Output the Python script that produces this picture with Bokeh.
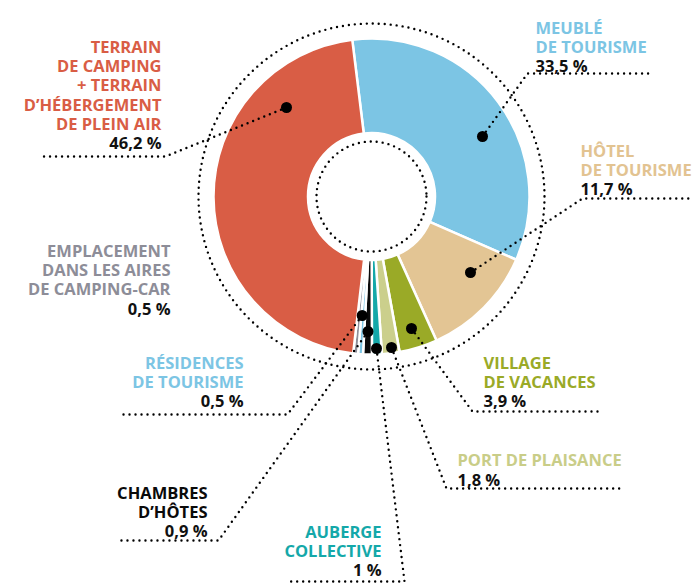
from bokeh.plotting import figure
from bokeh.models import Range1d, ColumnDataSource
from bokeh.embed import file_html
from bokeh.resources import INLINE
from bokeh.core.properties import value
import math

# ---------------- data ----------------
categories = ["Meublé de tourisme", "Hôtel de tourisme", "Village de vacances",
              "Port de plaisance", "Auberge collective", "Chambres d'hôtes",
              "Résidences de tourisme", "Emplacement dans les aires de camping-car",
              "Terrain de camping + terrain d'hébergement de plein air"]
shares = [33.5, 11.7, 3.9, 1.8, 1.0, 0.9, 0.5, 0.5, 46.2]
label_lines = [["MEUBLÉ", "DE TOURISME"],
               ["HÔTEL", "DE TOURISME"],
               ["VILLAGE", "DE VACANCES"],
               ["PORT DE PLAISANCE"],
               ["AUBERGE", "COLLECTIVE"],
               ["CHAMBRES", "D’HÔTES"],
               ["RÉSIDENCES", "DE TOURISME"],
               ["EMPLACEMENT", "DANS LES AIRES", "DE CAMPING-CAR"],
               ["TERRAIN", "DE CAMPING", "+ TERRAIN", "D’HÉBERGEMENT", "DE PLEIN AIR"]]
slice_colors = ["#7CC5E4", "#E3C594", "#9AAA27", "#CBCF8C", "#14A8A9",
                "#0A0A0A", "#7CC5E4", "#8D8D98", "#D95D45"]
text_colors = ["#7CC5E4", "#E2C391", "#9AAA27", "#C9CD88", "#14A8A9",
               "#0A0A0A", "#7CC5E4", "#8D8D98", "#D95D45"]

# ---------------- layout (reference pixel coords) ----------------
W, H = 696, 584
def X(px): return px
def Y(py): return H - py

CX, CY = 371, 196
R_OUT, R_IN = 158, 63.5
R_DOT_OUT, R_DOT_IN = 173, 55
START_DEG = 97.0
LINE_STEP = 19.2
FONT = "Open Sans"
FS = "16.5px"

# label anchor: x, first baseline, align
label_pos = [(535, 26.7, "left"), (580, 150, "left"), (483, 362, "left"),
             (457, 459.3, "left"), (381, 530.7, "right"), (207, 491.7, "right"),
             (243, 361.7, "right"), (170, 250, "right"), (161, 46, "right")]
# leader: dot, elbow, end (None = no leader)
leaders = [[(482, 136), (527, 73), (652, 73)],
           [(470, 272), (582, 198), (692, 198)],
           [(411, 328), (472, 411), (598, 411)],
           [(391, 347), (446, 488), (621, 488)],
           [(376, 348), (404, 581), (290, 581)],
           [(367.5, 331), (218, 540), (117, 540)],
           [(361.7, 315), (287, 414), (123, 414)],
           None,
           [(286, 107), (165, 156), (40, 156)]]

def fmt(v):
    s = f"{v:.1f}".replace(".", ",")
    if s.endswith(",0"):
        s = s[:-2]
    return s + " %"

p = figure(width=W, height=H, x_range=Range1d(0, W), y_range=Range1d(0, H),
           output_backend="svg", toolbar_location=None,
           x_axis_type=None, y_axis_type=None, min_border=0)
p.grid.visible = False
p.outline_line_color = None
p.background_fill_color = "white"

# donut
starts, ends = [], []
cum = 0.0
for s in shares:
    a0 = START_DEG - cum * 3.6
    a1 = a0 - s * 3.6
    starts.append(math.radians(a0))
    ends.append(math.radians(a1))
    cum += s
src = ColumnDataSource(dict(x=[X(CX)] * len(shares), y=[Y(CY)] * len(shares),
                            start=starts, end=ends, color=slice_colors))
p.annular_wedge(x="x", y="y", inner_radius=R_IN, outer_radius=R_OUT,
                start_angle="start", end_angle="end", direction="clock",
                fill_color="color", line_color="white", line_width=2.5, source=src)

# dotted circles
for r in (R_DOT_OUT, R_DOT_IN):
    p.circle(x=[X(CX)], y=[Y(CY)], radius=r, fill_color=None, line_color="black",
             line_width=2.4, line_dash="0 6", line_cap="round")

# leaders
xs, ys, dx, dy = [], [], [], []
for ld in leaders:
    if ld is None:
        continue
    xs.append([X(pt[0]) for pt in ld])
    ys.append([Y(pt[1]) for pt in ld])
    dx.append(X(ld[0][0]))
    dy.append(Y(ld[0][1]))
p.multi_line(xs=xs, ys=ys, line_color="black", line_width=2.4,
             line_dash="0 6", line_cap="round")
p.scatter(x=dx, y=dy, size=11, fill_color="black", line_color=None)

# labels
for lines, share, (lx, ly, al), col in zip(label_lines, shares, label_pos, text_colors):
    tx, ty, tc = [], [], []
    for i, t in enumerate(lines):
        tx.append(X(lx)); ty.append(Y(ly + i * LINE_STEP)); tc.append(t)
    p.text(x=tx, y=ty, text=tc, text_align=al, text_baseline="alphabetic",
           text_font=value(FONT), text_font_style="bold", text_font_size=FS,
           text_color=col)
    p.text(x=[X(lx)], y=[Y(ly + len(lines) * LINE_STEP)], text=[fmt(share)],
           text_align=al, text_baseline="alphabetic", text_font=value(FONT),
           text_font_style="bold", text_font_size=FS, text_color="#111111")

open("out.html", "w").write(file_html(p, INLINE))
